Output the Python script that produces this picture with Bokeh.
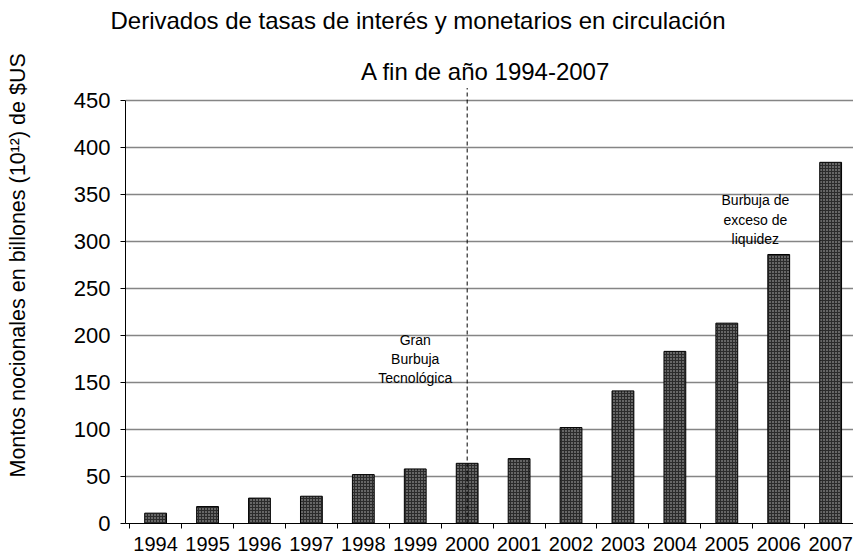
from bokeh.plotting import figure
from bokeh.models import Range1d, FixedTicker, Title, Label, LinearAxis
from bokeh.embed import file_html
from bokeh.resources import INLINE

# ---- data ----
years = ["1994", "1995", "1996", "1997", "1998", "1999", "2000",
         "2001", "2002", "2003", "2004", "2005", "2006", "2007"]
notional = [11, 18, 27, 29, 52, 58, 64, 69, 102, 141, 183, 213, 286, 384]
y_ticks = [0, 50, 100, 150, 200, 250, 300, 350, 400, 450]
marker_year = "2000"
marker_top = 463

title_text = "Derivados de tasas de interés y monetarios en circulación"
subtitle_text = "A fin de año 1994-2007"
ylabel_text = "Montos nocionales en billones (10¹²) de $US"
note1 = "Gran\nBurbuja\nTecnológica"
note2 = "Burbuja de\nexceso de\nliquidez"

FONT = "Liberation Sans"
idx = list(range(len(years)))

p = figure(width=853, height=558, title=None,
           x_range=Range1d(-0.58, 13.44), y_range=Range1d(0, 516.7),
           output_backend="svg", toolbar_location=None,
           min_border_left=125, min_border_right=0,
           min_border_top=36, min_border_bottom=35)
p.outline_line_color = None
p.background_fill_color = "white"
p.border_fill_color = "white"

# main title (panel above the frame)
main = Title(text=title_text, align="left", offset=-15, standoff=8,
             text_font=FONT, text_font_size="24px", text_font_style="normal",
             text_color="black")
p.add_layout(main, "above")

# subtitle inside the top of the frame
p.add_layout(Label(x=6.36, y=481, text=subtitle_text, text_align="center",
                   text_baseline="alphabetic", text_font=FONT, text_font_size="24px",
                   text_color="black"))

# grid
p.xgrid.visible = False
p.ygrid.ticker = FixedTicker(ticks=y_ticks)
p.ygrid.grid_line_color = "#858585"
p.ygrid.grid_line_width = 1.5

# y axis
ya = p.yaxis[0]
ya.ticker = FixedTicker(ticks=y_ticks)
ya.bounds = (y_ticks[0], y_ticks[-1])
ya.axis_line_color = "black"
ya.major_tick_line_color = "black"
ya.major_tick_out = 5
ya.major_tick_in = 0
ya.minor_tick_line_color = None
ya.major_label_standoff = 10
ya.major_label_text_font = FONT
ya.major_label_text_font_size = "22px"
ya.major_label_text_color = "black"

# spacer axis (invisible tick) to push the y title outward
spacer = LinearAxis(ticker=FixedTicker(ticks=[y_ticks[0]]), axis_line_color=None,
                    major_tick_line_color=None, minor_tick_line_color=None,
                    major_tick_out=38, major_tick_in=0, major_label_standoff=0,
                    major_label_overrides={y_ticks[0]: ""})
p.add_layout(spacer, "left")

ytitle = Title(text=ylabel_text, align="left", offset=46, standoff=6,
               text_font=FONT, text_font_size="21.5px", text_font_style="normal",
               text_color="black")
p.add_layout(ytitle, "left")

# x axis
xa = p.xaxis[0]
xa.ticker = FixedTicker(ticks=idx, minor_ticks=[i - 0.5 for i in range(len(years) + 1)])
xa.major_label_overrides = {i: y for i, y in zip(idx, years)}
xa.major_tick_out = 0
xa.major_tick_in = 0
xa.major_tick_line_color = None
xa.minor_tick_line_color = "black"
xa.minor_tick_out = 5
xa.minor_tick_in = 0
xa.axis_line_color = "black"
xa.major_label_standoff = 8
xa.major_label_text_font = FONT
xa.major_label_text_font_size = "20px"
xa.major_label_text_color = "black"

# bars
p.vbar(x=idx, top=notional, width=0.42, bottom=0,
       fill_color="#2b2b2b", line_color="black", line_width=1,
       hatch_pattern="dot", hatch_color="#bdbdbd", hatch_scale=3, hatch_weight=1)

# dashed marker line
mx = years.index(marker_year)
p.segment(x0=[mx], y0=[0], x1=[mx], y1=[marker_top],
          line_color="black", line_width=1, line_dash="4 3")

# notes
p.add_layout(Label(x=5, y=175, text=note1, text_align="center", text_baseline="middle",
                   text_font=FONT, text_font_size="14px", text_color="black",
                   text_line_height=1.2))
p.add_layout(Label(x=11.55, y=323, text=note2, text_align="center", text_baseline="middle",
                   text_font=FONT, text_font_size="14px", text_color="black",
                   text_line_height=1.2))

open("out.html", "w").write(file_html(p, INLINE))
